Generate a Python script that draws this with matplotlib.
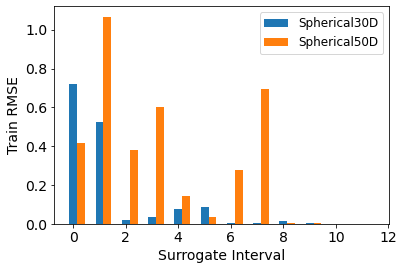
import numpy as np
import matplotlib
matplotlib.use('Agg')
import matplotlib.pyplot as plt

intervals = list(range(12))
spherical30 = [0.722, 0.526, 0.021, 0.036, 0.077, 0.088, 0.005, 0.005, 0.015, 0.005, 0.0, 0.0]
spherical50 = [0.418, 1.067, 0.381, 0.603, 0.144, 0.036, 0.278, 0.696, 0.005, 0.005, 0.0, 0.0]

W, H = 404, 270
fig = plt.figure(figsize=(W / 72, H / 72), dpi=72)
ax = fig.add_axes([54.3 / W, 46 / H, (389 - 54.3) / W, (224 - 6.3) / H])

x = np.array(intervals)
width = 0.3
ax.bar(x, spherical30, width, label='Spherical30D')
ax.bar(x + width, spherical50, width, label='Spherical50D')

ax.set_xlabel('Surrogate Interval', fontsize=14)
ax.set_ylabel('Train RMSE', fontsize=14)
ax.tick_params(labelsize=14)
ax.set_xticks([0, 2, 4, 6, 8, 10, 12])
ax.set_yticks([0.0, 0.2, 0.4, 0.6, 0.8, 1.0])
ax.set_xlim(-0.72, 12.02)
ax.set_ylim(0, 1.121)
ax.legend(fontsize=12)

fig.savefig('out.png', dpi=72)
